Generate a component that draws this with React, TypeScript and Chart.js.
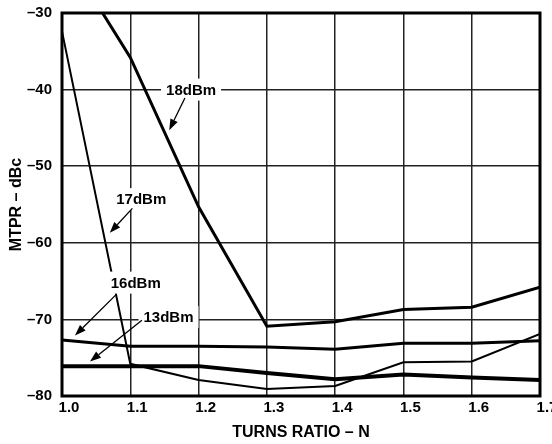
import React, { useEffect, useRef } from "react";
import { Chart, registerables } from "chart.js";

Chart.register(...registerables);

// Turns ratio N (x axis)
const turnsRatio = [1.0, 1.1, 1.2, 1.3, 1.4, 1.5, 1.6, 1.7];
// MTPR in dBc for each output level
const mtpr18dBm = [-21.5, -35.8, -55.3, -70.9, -70.3, -68.7, -68.4, -65.8];
const mtpr17dBm = [-32.4, -75.8, -77.9, -79.1, -78.7, -75.6, -75.5, -71.9];
const mtpr16dBm = [-72.7, -73.5, -73.5, -73.6, -73.9, -73.1, -73.1, -72.8];
const mtpr13dBm = [-76.1, -76.1, -76.1, -77.0, -77.8, -77.2, -77.6, -77.9];

const seriesNames = ["18dBm", "17dBm", "16dBm", "13dBm"];
const seriesValues = [mtpr18dBm, mtpr17dBm, mtpr16dBm, mtpr13dBm];
const seriesWidths = [3, 2, 3, 4];

// Callout labels (data coordinates): label centre, arrow tail, arrow tip
const calloutText = ["18dBm", "17dBm", "16dBm", "13dBm"];
const calloutLabelX = [1.189, 1.116, 1.108, 1.156];
const calloutLabelY = [-40.0, -54.3, -65.2, -69.7];
const calloutTailX = [1.18, 1.103, 1.08, 1.117];
const calloutTailY = [-41.1, -55.5, -66.7, -70.1];
const calloutTipX = [1.157, 1.07, 1.019, 1.041];
const calloutTipY = [-45.3, -58.7, -72.1, -75.5];

const FONT = "'Liberation Sans', Arial, Helvetica, sans-serif";

const frameAndCallouts = {
  id: "frameAndCallouts",
  afterDatasetsDraw(chart: any) {
    const { ctx, chartArea, scales } = chart;
    const xs = scales.x;
    const ys = scales.y;
    ctx.save();
    ctx.font = `bold 15px ${FONT}`;
    ctx.textAlign = "center";
    ctx.textBaseline = "middle";
    for (let i = 0; i < calloutText.length; i++) {
      const cx = xs.getPixelForValue(calloutLabelX[i]);
      const cy = ys.getPixelForValue(calloutLabelY[i]);
      const w = ctx.measureText(calloutText[i]).width + 10;
      const h = 22;
      ctx.fillStyle = "#fff";
      ctx.fillRect(cx - w / 2, cy - h / 2, w, h);
      ctx.fillStyle = "#000";
      ctx.fillText(calloutText[i], cx, cy + 1);
      const tx = xs.getPixelForValue(calloutTailX[i]);
      const ty = ys.getPixelForValue(calloutTailY[i]);
      const px = xs.getPixelForValue(calloutTipX[i]);
      const py = ys.getPixelForValue(calloutTipY[i]);
      const ang = Math.atan2(py - ty, px - tx);
      const headLen = 11;
      const headW = 4;
      const bx = px - headLen * Math.cos(ang);
      const by = py - headLen * Math.sin(ang);
      ctx.strokeStyle = "#000";
      ctx.lineWidth = 1.3;
      ctx.beginPath();
      ctx.moveTo(tx, ty);
      ctx.lineTo(bx, by);
      ctx.stroke();
      ctx.beginPath();
      ctx.moveTo(px, py);
      ctx.lineTo(bx + headW * Math.sin(ang), by - headW * Math.cos(ang));
      ctx.lineTo(bx - headW * Math.sin(ang), by + headW * Math.cos(ang));
      ctx.closePath();
      ctx.fill();
    }
    ctx.strokeStyle = "#000";
    ctx.lineWidth = 3;
    ctx.strokeRect(
      chartArea.left,
      chartArea.top,
      chartArea.right - chartArea.left,
      chartArea.bottom - chartArea.top
    );
    ctx.restore();
  },
};

export default function App() {
  const ref = useRef<HTMLCanvasElement | null>(null);

  useEffect(() => {
    if (!ref.current) return;
    const datasets = seriesNames.map((name, i) => ({
      label: name,
      data: turnsRatio.map((n, j) => ({ x: n, y: seriesValues[i][j] })),
      borderColor: "#000",
      backgroundColor: "#000",
      borderWidth: seriesWidths[i],
      pointRadius: 0,
      tension: 0,
      fill: false,
    }));
    const chart = new Chart(ref.current, {
      type: "line",
      data: { datasets },
      plugins: [frameAndCallouts],
      options: {
        animation: false,
        responsive: false,
        devicePixelRatio: 1,
        layout: { padding: { top: 13, right: 12, bottom: 0, left: 0 } },
        plugins: {
          legend: { display: false },
          tooltip: { enabled: false },
        },
        scales: {
          x: {
            type: "linear",
            min: 1.0,
            max: 1.7,
            ticks: {
              stepSize: 0.1,
              padding: 3,
              labelOffset: 7,
              color: "#000",
              font: { family: FONT, size: 15, weight: "bold" },
              callback: (v: any) => Number(v).toFixed(1),
              maxRotation: 0,
              autoSkip: false,
            },
            grid: { color: "#222", lineWidth: 1.5, drawTicks: false },
            border: { display: false },
            title: {
              display: true,
              text: "TURNS RATIO – N",
              color: "#000",
              font: { family: FONT, size: 16, weight: "bold" },
              padding: { top: 0, bottom: 2 },
            },
            afterFit: (s: any) => {
              s.height = 48;
              s.paddingLeft = 0;
              s.paddingRight = 0;
            },
          },
          y: {
            min: -80,
            max: -30,
            ticks: {
              stepSize: 10,
              padding: 10,
              color: "#000",
              font: { family: FONT, size: 15, weight: "bold" },
              callback: (v: any) => String(v).replace("-", "–"),
            },
            grid: { color: "#222", lineWidth: 1.5, drawTicks: false },
            border: { display: false },
            title: {
              display: true,
              text: "MTPR – dBc",
              color: "#000",
              font: { family: FONT, size: 16, weight: "bold" },
              padding: { top: 7, bottom: 0 },
            },
            afterFit: (s: any) => {
              s.width = 62;
              s.paddingTop = 0;
              s.paddingBottom = 0;
            },
          },
        },
      } as any,
    });
    return () => chart.destroy();
  }, []);

  return (
    <div style={{ position: "fixed", left: 0, top: 0, width: 552, height: 444, background: "#fff" }}>
      <canvas ref={ref} width={552} height={444} />
    </div>
  );
}
